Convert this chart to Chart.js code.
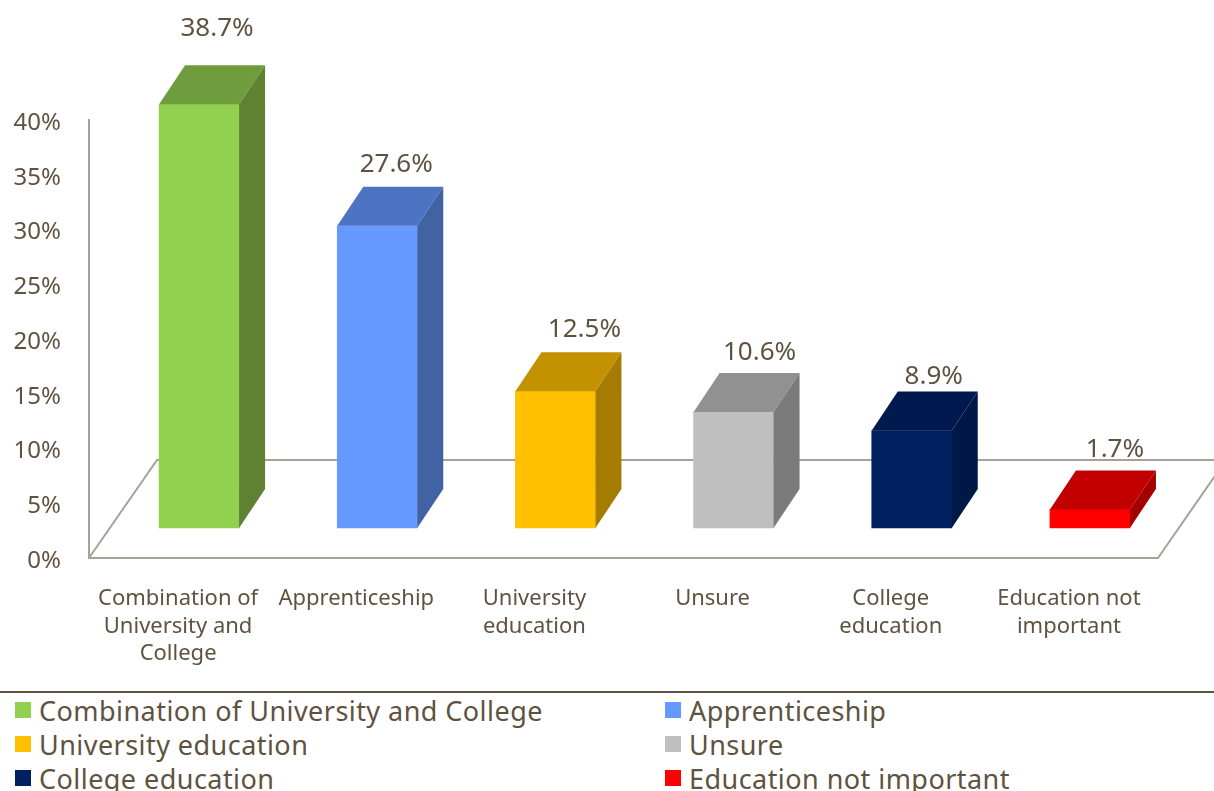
<!DOCTYPE html>
<html>
<head>
<meta charset="utf-8">
<style>
    html, body { margin: 0; background: #fff; overflow: hidden; }
    canvas { display: block; }
    #legend {
        border-top: 2px solid #5f5240;
        margin-top: 0;
        display: grid;
        grid-template-columns: 650px 1fr;
        grid-auto-rows: 34px;
        font: 27px "Noto Sans", sans-serif;
        letter-spacing: 0.45px;
        color: #5f5240;
        height: 98px;
        overflow: hidden;
    }
    #legend div { display: flex; align-items: center; padding-left: 15px; white-space: nowrap; }
    #legend i { width: 16px; height: 16px; margin-right: 8px; flex: none; }
</style>
</head>
<body>
<canvas id="chart" width="1214" height="691"></canvas>
<div id="legend"></div>
<script src="https://cdn.jsdelivr.net/npm/chart.js@4/dist/chart.umd.min.js"></script>
<script>
// Chart data
const categories = ['Combination of University and College', 'Apprenticeship', 'University education', 'Unsure', 'College education', 'Education not important'];
const axisLabels = [['Combination of', 'University and', 'College'], ['Apprenticeship'], ['University', 'education'], ['Unsure'], ['College', 'education'], ['Education not', 'important']];
const shares = [38.7, 27.6, 12.5, 10.6, 8.9, 1.7];
const yTicks = [0, 5, 10, 15, 20, 25, 30, 35, 40];

// Face colours for the fake 3D bars
const frontColors = ['#92d050', '#6699ff', '#ffc000', '#bfbfbf', '#002060', '#ff0000'];
const topColors = ['#6f9d3d', '#4d74c2', '#c29200', '#919191', '#001a4f', '#c20000'];
const sideColors = ['#5e8232', '#4162a3', '#a47c00', '#7b7b7b', '#001847', '#a40000'];

// Hand placed value labels in the original, nudged from the bar centre
const labelNudgeX = [18, 19, 29, 26, 22, 25];
const labelNudgeY = [-37, -22, -23, -20, -15, -21];

const textColor = '#5f5240';
const axisColor = '#a8a296';
const barShift = { x: 21, y: -30 };   // bars stand inside the floor
const barDepth = { x: 26, y: -39 };
const floorDepth = { x: 68, y: -98 };

const fakeDepth = {
    id: 'fakeDepth',
    beforeDatasetsDraw(chart) {
        const { ctx, chartArea: a } = chart;
        // floor outline
        ctx.save();
        ctx.strokeStyle = axisColor;
        ctx.lineWidth = 2;
        ctx.beginPath();
        ctx.moveTo(a.left, a.bottom);
        ctx.lineTo(a.left + floorDepth.x, a.bottom + floorDepth.y);
        ctx.lineTo(a.right + floorDepth.x, a.bottom + floorDepth.y);
        ctx.lineTo(a.right, a.bottom);
        ctx.stroke();
        ctx.restore();
        ctx.save();
        ctx.translate(barShift.x, barShift.y);
    },
    afterDatasetsDraw(chart) {
        const ctx = chart.ctx;
        ctx.restore();
        chart.getDatasetMeta(0).data.forEach((bar, i) => {
            const left = bar.x - bar.width / 2 + barShift.x;
            const right = bar.x + bar.width / 2 + barShift.x;
            const top = bar.y + barShift.y;
            const bottom = bar.base + barShift.y;
            // top face
            ctx.fillStyle = topColors[i];
            ctx.beginPath();
            ctx.moveTo(left, top);
            ctx.lineTo(left + barDepth.x, top + barDepth.y);
            ctx.lineTo(right + barDepth.x, top + barDepth.y);
            ctx.lineTo(right, top);
            ctx.closePath();
            ctx.fill();
            // side face
            ctx.fillStyle = sideColors[i];
            ctx.beginPath();
            ctx.moveTo(right, top);
            ctx.lineTo(right + barDepth.x, top + barDepth.y);
            ctx.lineTo(right + barDepth.x, bottom + barDepth.y);
            ctx.lineTo(right, bottom);
            ctx.closePath();
            ctx.fill();
            // value label
            ctx.fillStyle = textColor;
            ctx.font = '26px "Noto Sans", sans-serif';
            ctx.textAlign = 'center';
            ctx.textBaseline = 'middle';
            ctx.fillText(shares[i].toFixed(1) + '%',
                bar.x + barShift.x + labelNudgeX[i],
                top + barDepth.y + labelNudgeY[i]);
        });
    }
};

new Chart(document.getElementById('chart'), {
    type: 'bar',
    data: {
        labels: axisLabels,
        datasets: [{
            data: shares,
            backgroundColor: frontColors,
            barThickness: 80,
            clip: false
        }]
    },
    options: {
        responsive: false,
        animation: false,
        layout: { padding: { top: 120, right: 56, left: 0, bottom: 0 } },
        plugins: { legend: { display: false }, tooltip: { enabled: false } },
        scales: {
            x: {
                grid: { display: false, drawTicks: false },
                border: { color: axisColor, width: 2 },
                afterFit(scale) { scale.height = 133; },
                ticks: {
                    color: textColor,
                    font: { family: '"Noto Sans", sans-serif', size: 22, lineHeight: 1.25 },
                    maxRotation: 0,
                    autoSkip: false,
                    padding: 27
                }
            },
            y: {
                min: 0,
                max: 40,
                afterFit(scale) { scale.width = 89; },
                afterBuildTicks(scale) { scale.ticks = yTicks.map(v => ({ value: v })); },
                grid: { display: false, drawTicks: false },
                border: { color: axisColor, width: 2 },
                ticks: {
                    color: textColor,
                    font: { family: '"Noto Sans", sans-serif', size: 24 },
                    padding: 28,
                    labelOffset: 3,
                    callback: v => v + '%'
                }
            }
        }
    },
    plugins: [fakeDepth]
});

// Legend, two columns
const legend = document.getElementById('legend');
categories.forEach((name, i) => {
    const item = document.createElement('div');
    const swatch = document.createElement('i');
    swatch.style.background = frontColors[i];
    item.appendChild(swatch);
    item.appendChild(document.createTextNode(name));
    legend.appendChild(item);
});
</script>
</body>
</html>
